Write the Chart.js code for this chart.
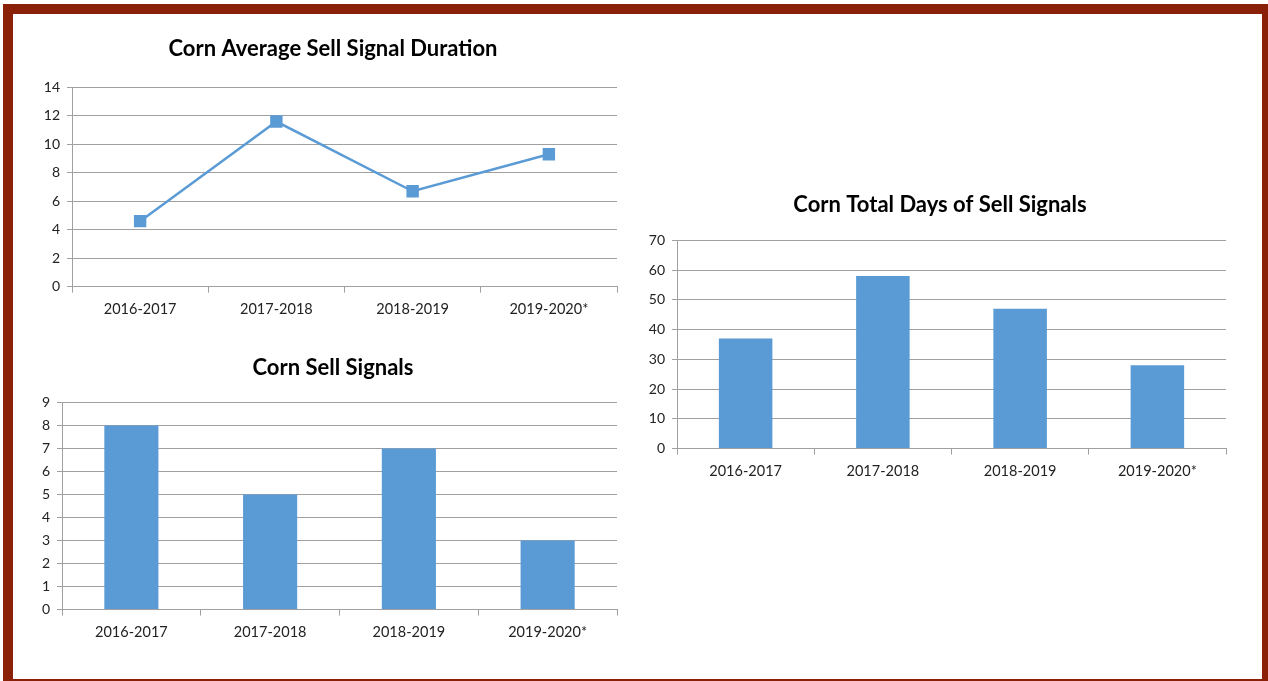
<!DOCTYPE html>
<html>
<head>
<meta charset="utf-8">
<script src="https://cdn.jsdelivr.net/npm/chart.js@4.4.0/dist/chart.umd.min.js"></script>
<style>
  body { margin: 0; background: #fff; width: 1268px; height: 681px; overflow: hidden; position: relative; }
  #frame { position: absolute; left: 3px; top: 4px; width: 1249px; height: 665px; border: 10px solid #8B2008; background: #fff; }
  .box { position: absolute; }
</style>
</head>
<body>
<div id="frame"></div>
<div class="box" style="left:30px; top:22px; width:606px; height:304px;"><canvas id="durationChart"></canvas></div>
<div class="box" style="left:30px; top:341px; width:606px; height:308px;"><canvas id="signalsChart"></canvas></div>
<div class="box" style="left:635px; top:178px; width:610px; height:310px;"><canvas id="daysChart"></canvas></div>
<script>
var seasons = ['2016-2017', '2017-2018', '2018-2019', '2019-2020*'];
var avgDuration = [4.6, 11.6, 6.7, 9.3];
var sellSignals = [8, 5, 7, 3];
var totalDays = [37, 58, 47, 28];

var blue = '#5B9BD5';
var gridColor = '#A0A0A0';
var fontFamily = 'Lato, "Liberation Sans", sans-serif';

// centre the title over the whole canvas, like the original
var wideTitle = {
    id: 'wideTitle',
    afterLayout: function (chart) {
        var t = chart.titleBlock;
        if (t) { t.left = 0; t.right = chart.width; t.width = chart.width; }
    }
};

function makeOptions(title, yMax, yStep, yWidth, titleGap) {
    return {
        responsive: true,
        maintainAspectRatio: false,
        animation: false,
        layout: { padding: { right: 19, top: 0, bottom: 0 } },
        plugins: {
            legend: { display: false },
            tooltip: { enabled: false },
            title: {
                display: true,
                text: title,
                color: '#000',
                font: { family: fontFamily, size: 22, weight: 'bold' },
                padding: { top: 14, bottom: titleGap }
            }
        },
        scales: {
            x: {
                offset: true,
                grid: { offset: true, drawOnChartArea: false, drawTicks: true, tickLength: 6, color: gridColor },
                border: { display: true, color: gridColor },
                ticks: { color: '#222', font: { family: fontFamily, size: 14.5 }, padding: 8, maxRotation: 0 }
            },
            y: {
                min: 0,
                max: yMax,
                grid: { color: gridColor, tickLength: 5 },
                border: { display: true, color: gridColor },
                ticks: { stepSize: yStep, color: '#222', font: { family: fontFamily, size: 14 }, padding: 7 },
                afterFit: function (scale) { scale.width = yWidth; }
            }
        }
    };
}

new Chart(document.getElementById('durationChart'), {
    type: 'line',
    data: {
        labels: seasons,
        datasets: [{
            data: avgDuration,
            borderColor: blue,
            backgroundColor: blue,
            borderWidth: 2.5,
            pointStyle: 'rect',
            pointRadius: 7,
            tension: 0
        }]
    },
    options: makeOptions('Corn Average Sell Signal Duration', 14, 2, 42, 25),
    plugins: [wideTitle]
});

new Chart(document.getElementById('signalsChart'), {
    type: 'bar',
    data: {
        labels: seasons,
        datasets: [{ data: sellSignals, backgroundColor: blue, categoryPercentage: 1, barPercentage: 0.39 }]
    },
    options: makeOptions('Corn Sell Signals', 9, 1, 32, 21),
    plugins: [wideTitle]
});

new Chart(document.getElementById('daysChart'), {
    type: 'bar',
    data: {
        labels: seasons,
        datasets: [{ data: totalDays, backgroundColor: blue, categoryPercentage: 1, barPercentage: 0.39 }]
    },
    options: makeOptions('Corn Total Days of Sell Signals', 70, 10, 42, 22),
    plugins: [wideTitle]
});
</script>
</body>
</html>
